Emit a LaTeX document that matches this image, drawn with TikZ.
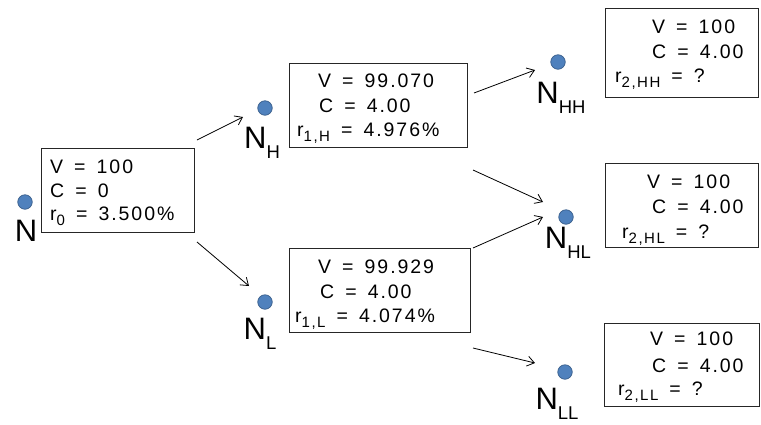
\documentclass[tikz,border=0pt]{standalone}
\usepackage{fontspec}
\setmainfont{Liberation Sans}
\newfontfamily\boxfont{Liberation Sans}[LetterSpace=10,WordSpace=1.5]
\usetikzlibrary{arrows.meta}
\newcommand{\bsub}[1]{\raisebox{-0.3em}{\fontsize{15}{15}\selectfont #1}}
\newcommand{\nsub}[1]{\raisebox{-0.32em}{\fontsize{18.5}{19}\selectfont #1}}
\tikzset{
  valbox/.style={draw=black!85, line width=0.8pt, rectangle, inner sep=0pt},
  txt/.style={anchor=base west, inner sep=0pt, font=\boxfont\fontsize{19.5}{20}\selectfont},
  lbl/.style={anchor=north, inner sep=0pt, font=\fontsize{31}{32}\selectfont},
  dot/.style={circle, fill={rgb,255:red,79;green,129;blue,189}, draw={rgb,255:red,56;green,93;blue,138}, line width=0.7pt, minimum size=14.5pt, inner sep=0pt},
  conn/.style={line width=0.8pt, -{Straight Barb[length=7pt,width=10pt]}}
}
\begin{document}
\begin{tikzpicture}[x=1pt,y=-1pt]
\useasboundingbox (0,0) rectangle (761,424);
% boxes
\node[valbox, minimum width=153pt, minimum height=84pt] (b0) at (118,190) {};
\node[valbox, minimum width=178pt, minimum height=84pt] (bH) at (378,105) {};
\node[valbox, minimum width=181pt, minimum height=84pt] (bL) at (379.5,290) {};
\node[valbox, minimum width=153pt, minimum height=89pt] (bHH) at (681.5,52.5) {};
\node[valbox, minimum width=153pt, minimum height=84pt] (bHL) at (681.5,205) {};
\node[valbox, minimum width=155pt, minimum height=83pt] (bLL) at (681.5,364.5) {};
% box texts
\node[txt] (t0a) at (50,173) {V = 100};
\node[txt] (t0b) at (50,197) {C = 0};
\node[txt] (t0c) at (50,220) {r\bsub{0} = 3.500\%};
\node[txt] (tHa) at (318,87) {V = 99.070};
\node[txt] (tHb) at (319,112) {C = 4.00};
\node[txt] (tHc) at (297,136) {r\bsub{1,H} = 4.976\%};
\node[txt] (tLa) at (318,273) {V = 99.929};
\node[txt] (tLb) at (320,298) {C = 4.00};
\node[txt] (tLc) at (295,322) {r\bsub{1,L} = 4.074\%};
\node[txt] (tHHa) at (652,33) {V = 100};
\node[txt] (tHHb) at (652,58) {C = 4.00};
\node[txt] (tHHc) at (615,82) {r\bsub{2,HH} = ?};
\node[txt] (tHLa) at (647,188) {V = 100};
\node[txt] (tHLb) at (652,213) {C = 4.00};
\node[txt] (tHLc) at (622,238) {r\bsub{2,HL} = ?};
\node[txt] (tLLa) at (650,345) {V = 100};
\node[txt] (tLLb) at (652,372) {C = 4.00};
\node[txt] (tLLc) at (618,395) {r\bsub{2,LL} = ?};
% dots and labels
\node[dot] (d0) at (25,202) {};
\node[lbl] (n0) at (26,220) {N};
\node[dot] (dH) at (265,108) {};
\node[lbl] (nH) at (262,127) {N\nsub{H}};
\node[dot] (dL) at (265,302) {};
\node[lbl] (nL) at (260,318) {N\nsub{L}};
\node[dot] (dHH) at (558,62) {};
\node[lbl] (nHH) at (561,82) {N\nsub{HH}};
\node[dot] (dHL) at (566,217) {};
\node[lbl] (nHL) at (568,227) {N\nsub{HL}};
\node[dot] (dLL) at (565,372) {};
\node[lbl] (nLL) at (557,388) {N\nsub{LL}};
% connector ends
\coordinate (s1) at (197,140); \coordinate (e1) at (243,117);
\coordinate (s2) at (197,242); \coordinate (e2) at (249,286);
\coordinate (s3) at (474,93);  \coordinate (e3) at (535,70);
\coordinate (s4) at (473,170); \coordinate (e4) at (543,202);
\coordinate (s5) at (473,248); \coordinate (e5) at (543,217);
\coordinate (s6) at (473,348); \coordinate (e6) at (535,363);
\draw[conn] (s1) -- (e1);
\draw[conn] (s2) -- (e2);
\draw[conn] (s3) -- (e3);
\draw[conn] (s4) -- (e4);
\draw[conn] (s5) -- (e5);
\draw[conn] (s6) -- (e6);
\end{tikzpicture}
\end{document}
